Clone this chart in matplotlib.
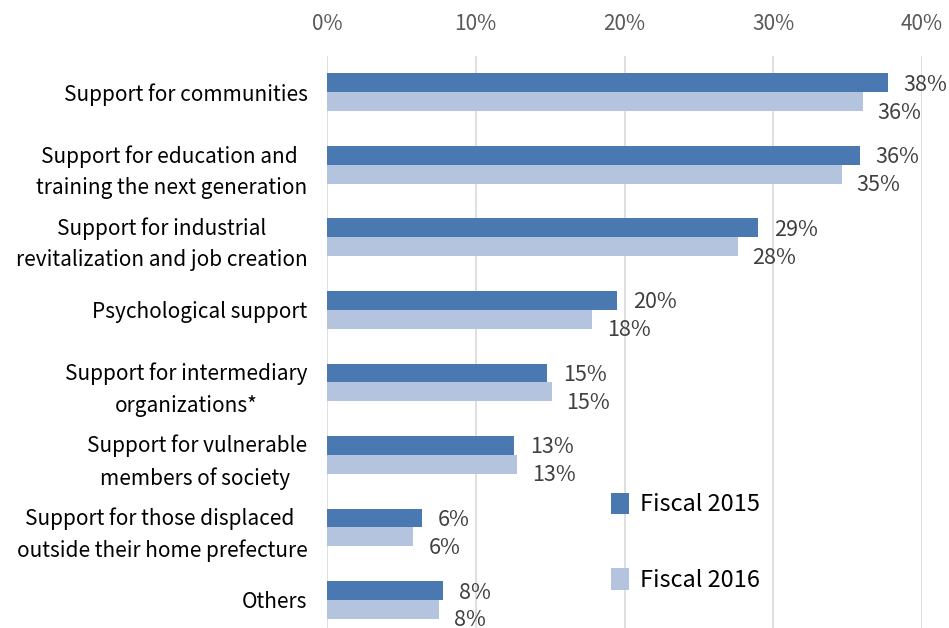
import matplotlib
matplotlib.use('Agg')
import matplotlib.pyplot as plt
import numpy as np
from matplotlib.ticker import FuncFormatter

plt.rcParams['font.family'] = ['Noto Sans CJK JP', 'DejaVu Sans']

categories = [
  'Support for communities',
  'Support for education and \ntraining the next generation',
  'Support for industrial\nrevitalization and job creation',
  'Psychological support',
  'Support for intermediary\norganizations*',
  'Support for vulnerable\nmembers of society ',
  'Support for those displaced \noutside their home prefecture',
  'Others',
]
fy2015 = [37.7, 35.8, 29.0, 19.5, 14.8, 12.6, 6.4, 7.8]
fy2016 = [36.0, 34.6, 27.6, 17.8, 15.1, 12.8, 5.8, 7.5]
labels2015 = ['38%', '36%', '29%', '20%', '15%', '13%', '6%', '8%']
labels2016 = ['36%', '35%', '28%', '18%', '15%', '13%', '6%', '8%']

c2015 = '#4a78b0'
c2016 = '#b4c3de'

fig = plt.figure(figsize=(9.49, 6.28), dpi=100)
ax = fig.add_axes([327 / 949, 0, (922 - 327) / 949, (628 - 56) / 628])

y = np.arange(len(categories))
h = 0.26
ax.barh(y - h / 2, fy2015, height=h, color=c2015, label='Fiscal 2015', zorder=2)
ax.barh(y + h / 2, fy2016, height=h, color=c2016, label='Fiscal 2016', zorder=2)

for i in range(len(categories)):
  ax.annotate(labels2015[i], (fy2015[i], y[i] - h / 2), xytext=(16, -2),
              textcoords='offset pixels', va='center', ha='left',
              fontsize=15.5, color='#404040')
  ax.annotate(labels2016[i], (fy2016[i], y[i] + h / 2), xytext=(15, -11),
              textcoords='offset pixels', va='center', ha='left',
              fontsize=15.5, color='#404040')

ax.set_xlim(0, 40)
ax.set_ylim(7 + 28 / 72.5, -0.5)
ax.set_xticks([0, 10, 20, 30, 40])
ax.xaxis.set_major_formatter(FuncFormatter(lambda v, p: f'{v:.0f}%'))
ax.xaxis.tick_top()
ax.tick_params(axis='x', length=0, pad=15, labelsize=15, labelcolor='#595959')
ax.set_yticks(y)
ax.set_yticklabels(categories, fontsize=15, linespacing=1.55)
for lbl in ax.get_yticklabels():
  lbl.set_multialignment('center')
ax.tick_params(axis='y', length=0, pad=14)
ax.grid(axis='x', color='#d9d9d9', linewidth=1.2, zorder=0)
for s in ax.spines.values():
  s.set_visible(False)

ax.legend(loc='upper left', bbox_to_anchor=(599 / 949, 1 - 481 / 628),
          bbox_transform=fig.transFigure, frameon=False, fontsize=17,
          labelspacing=2.2, handlelength=0.75, handleheight=1.0,
          handletextpad=0.5, borderpad=0)

fig.savefig('out.png', dpi=100)
